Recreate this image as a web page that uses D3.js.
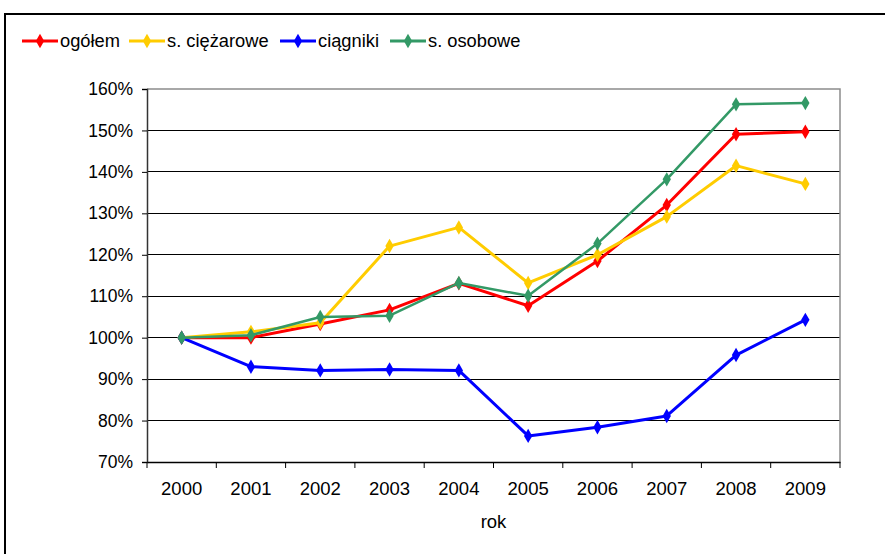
<!DOCTYPE html>
<html>
<head>
<meta charset="utf-8">
<script src="https://cdn.jsdelivr.net/npm/d3@7"></script>
<style>
  html, body { margin: 0; padding: 0; background: #fff; }
  svg { display: block; font-family: "Liberation Sans", Arial, sans-serif; }
</style>
</head>
<body>
<svg id="chart" width="885" height="554"></svg>
<script>
// Vehicle counts relative to the year 2000 (=100%)
const years = ["2000", "2001", "2002", "2003", "2004", "2005", "2006", "2007", "2008", "2009"];
const ogolem    = [100, 100.0, 103.3, 106.7, 113.1, 107.7, 118.5, 132.0, 149.1, 149.7];
const ciezarowe = [100, 101.4, 103.6, 122.1, 126.6, 113.2, 120.0, 129.2, 141.5, 137.1];
const ciagniki  = [100, 93.0, 92.1, 92.3, 92.1, 76.3, 78.4, 81.1, 95.8, 104.3];
const osobowe   = [100, 100.6, 105.0, 105.3, 113.2, 110.1, 122.7, 138.2, 156.3, 156.6];
const yTicks = [70, 80, 90, 100, 110, 120, 130, 140, 150, 160];
const seriesNames = ["ogółem", "s. ciężarowe", "ciągniki", "s. osobowe"];
const seriesColors = ["#ff0000", "#ffcc00", "#0000ff", "#339966"];
const seriesValues = [ogolem, ciezarowe, ciagniki, osobowe];

const svg = d3.select("#chart");

// outer frame (left and top edges)
svg.append("path")
  .attr("d", "M5,554 V14 H885")
  .attr("fill", "none").attr("stroke", "#000").attr("stroke-width", 2);

const plotL = 147, plotR = 840, plotT = 89, plotB = 462;
const x = d3.scaleBand().domain(years).range([plotL, plotR]);
const y = d3.scaleLinear().domain([70, 160]).range([plotB, plotT]);

// horizontal gridlines
svg.append("g").selectAll("line")
  .data(yTicks.filter(t => t > 70 && t < 160))
  .join("line")
  .attr("x1", plotL).attr("x2", plotR)
  .attr("y1", d => y(d)).attr("y2", d => y(d))
  .attr("stroke", "#000").attr("stroke-width", 1)
  .attr("shape-rendering", "crispEdges");

// plot border (top and right)
svg.append("path")
  .attr("d", `M${plotL},${y(160)} H${plotR} V${plotB}`)
  .attr("fill", "none").attr("stroke", "#8c8c8c").attr("stroke-width", 1.5);

// y axis
const yAxis = svg.append("g")
  .attr("transform", `translate(${plotL},0)`)
  .call(d3.axisLeft(y).tickValues(yTicks).tickSize(5).tickPadding(9).tickFormat(d => d + "%"));
yAxis.select(".domain").attr("stroke", "#333").attr("stroke-width", 1.5);
yAxis.selectAll(".tick line").attr("stroke", "#000");
yAxis.selectAll("text").attr("font-size", 17.5).attr("fill", "#000")
  .attr("font-family", "'Liberation Sans', Arial, sans-serif");

// x axis with ticks at category boundaries
const xAxis = svg.append("g")
  .attr("transform", `translate(0,${plotB})`)
  .call(d3.axisBottom(x).tickSize(0).tickPadding(20));
xAxis.select(".domain").attr("stroke", "#000").attr("stroke-width", 1.5);
xAxis.selectAll("text").attr("font-size", 18.5).attr("fill", "#000")
  .attr("font-family", "'Liberation Sans', Arial, sans-serif");
svg.append("g").selectAll("line")
  .data(years.concat(["end"]))
  .join("line")
  .attr("x1", (d, i) => plotL + i * x.step()).attr("x2", (d, i) => plotL + i * x.step())
  .attr("y1", plotB).attr("y2", plotB + 6)
  .attr("stroke", "#000").attr("stroke-width", 1);

// x axis title
svg.append("text")
  .attr("x", (plotL + plotR) / 2).attr("y", 528)
  .attr("text-anchor", "middle").attr("font-size", 18.5).text("rok");

const cx = d => x(d) + x.bandwidth() / 2;
const diamond = d3.symbol().type(d3.symbolDiamond).size(60);

// series lines and markers
seriesValues.forEach((vals, si) => {
  const data = years.map((yr, i) => ({ yr, v: vals[i] }));
  const g = svg.append("g");
  g.append("path")
    .datum(data)
    .attr("fill", "none")
    .attr("stroke", seriesColors[si])
    .attr("stroke-width", si === 3 ? 2.5 : 3)
    .attr("stroke-linejoin", "round")
    .attr("d", d3.line().x(d => cx(d.yr)).y(d => y(d.v)));
  g.selectAll("path.m")
    .data(data)
    .join("path")
    .attr("class", "m")
    .attr("d", diamond)
    .attr("transform", d => `translate(${cx(d.yr)},${y(d.v)})`)
    .attr("fill", seriesColors[si]);
});

// legend
const legendX = [22, 129, 280, 390];
const legend = svg.append("g");
seriesNames.forEach((name, i) => {
  const lg = legend.append("g").attr("transform", `translate(${legendX[i]},41)`);
  lg.append("line").attr("x1", 0).attr("x2", 36).attr("y1", 0).attr("y2", 0)
    .attr("stroke", seriesColors[i]).attr("stroke-width", 3);
  lg.append("path").attr("d", diamond).attr("transform", "translate(18,0)").attr("fill", seriesColors[i]);
  lg.append("text").attr("x", 38).attr("y", 6).attr("font-size", 18.3).text(name);
});
</script>
</body>
</html>
